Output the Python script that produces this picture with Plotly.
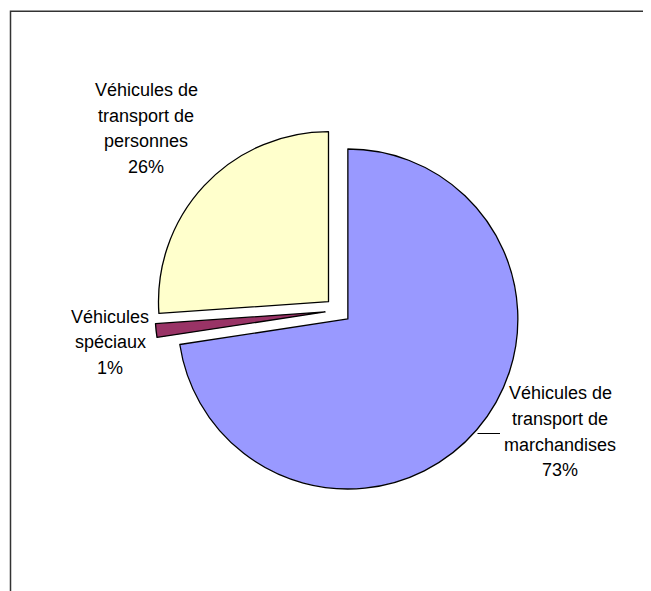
import plotly.graph_objects as go

# Data
categories = [
    "Véhicules de transport de marchandises",
    "Véhicules spéciaux",
    "Véhicules de transport de personnes",
]
label_lines = [
    ["Véhicules de", "transport de", "marchandises"],
    ["Véhicules", "spéciaux"],
    ["Véhicules de", "transport de", "personnes"],
]
shares = [72.6, 1.3, 26.1]
colors = ["#9999FF", "#993366", "#FFFFCC"]

# Layout (page has 8px body margin; figure sized to fit window)
OFF = 8
W, H = 651 - OFF, 591 - OFF


def px(x):
    return (x - OFF) / W


def py(y):
    return 1 - (y - OFF) / H


# pie box in window pixels (center ~ (338, 310.5), radius incl. pull ~183)
cx, cy, half = 338, 310.5, 183
dom_x = [px(cx - half), px(cx + half)]
dom_y = [py(cy + half), py(cy - half)]

fig = go.Figure(
    go.Pie(
        labels=categories,
        values=shares,
        marker=dict(colors=colors, line=dict(color="#000000", width=1.3)),
        pull=[0.0765, 0.0765, 0.0765],
        sort=False,
        direction="clockwise",
        rotation=0,
        textinfo="none",
        showlegend=False,
        domain=dict(x=dom_x, y=dom_y),
        hoverinfo="label+percent",
    )
)

# Data labels (label lines + rounded percentage), placed like the original
label_pos = [(560, 393), (110, 316.6), (146, 89.7)]  # x center, first line y (window px)
line_step = 25.8
total = sum(shares)
annotations = []
for lines, v, (lx, ly) in zip(label_lines, shares, label_pos):
    all_lines = lines + [f"{round(v / total * 100)}%"]
    for i, t in enumerate(all_lines):
        annotations.append(dict(
            x=px(lx), y=py(ly + i * line_step), xref="paper", yref="paper",
            text=t, showarrow=False, xanchor="center", yanchor="middle",
            font=dict(family="Liberation Sans, Arial, sans-serif", size=18, color="#000000"),
        ))

fig.update_layout(
    width=W,
    height=H,
    margin=dict(l=0, r=0, t=0, b=0),
    paper_bgcolor="#FFFFFF",
    plot_bgcolor="#FFFFFF",
    annotations=annotations,
    shapes=[
        dict(type="rect", xref="paper", yref="paper",
             x0=px(10.5), x1=1.2, y0=-0.2, y1=py(11.3),
             line=dict(color="#333333", width=1.5), fillcolor="rgba(0,0,0,0)"),
        # leader line for the large slice label
        dict(type="line", xref="paper", yref="paper",
             x0=px(477.5), x1=px(500), y0=py(433.5), y1=py(433.5),
             line=dict(color="#000000", width=1)),
    ],
)

fig.write_html("out.html")
